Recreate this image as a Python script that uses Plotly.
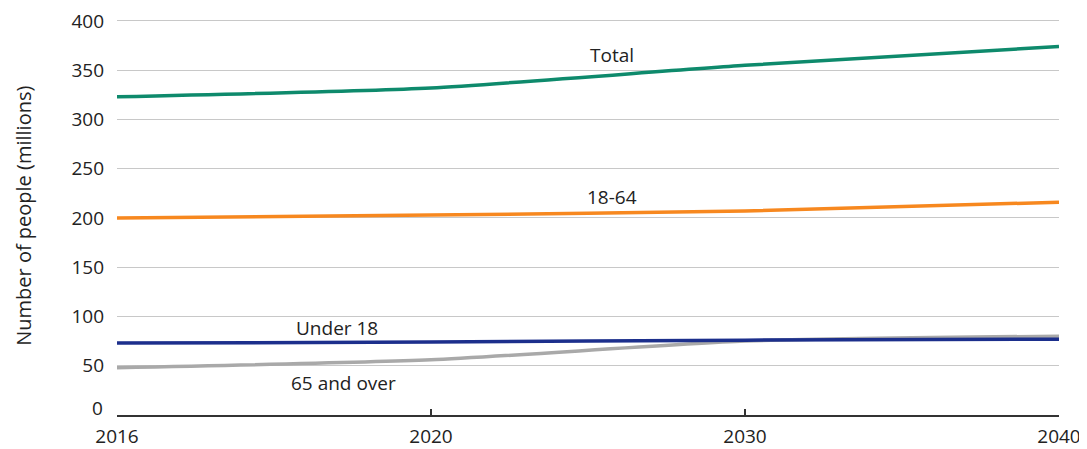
import plotly.graph_objects as go

YEARS = ["2016", "2020", "2030", "2040"]
TOTAL = [323, 332, 355, 374]
AGE_18_64 = [200, 203, 207, 216]
UNDER_18 = [73, 74, 76, 77]
AGE_65_OVER = [48, 56, 75, 80]

Y_TICKS = [0, 50, 100, 150, 200, 250, 300, 350, 400]

SERIES = [
    ("65 and over", AGE_65_OVER, "#a9a9a9"),
    ("Under 18", UNDER_18, "#1c2f8c"),
    ("18-64", AGE_18_64, "#f7881f"),
    ("Total", TOTAL, "#0e8a6c"),
]

# label text, x position (category index), y value
LABELS = [
    ("Total", 1.577, 365),
    ("18-64", 1.577, 221),
    ("Under 18", 0.70, 88),
    ("65 and over", 0.72, 32),
]

FONT = "Open Sans, Lato, sans-serif"

fig = go.Figure()
for name, vals, color in SERIES:
    fig.add_trace(go.Scatter(
        x=YEARS, y=vals, name=name, mode="lines",
        line=dict(color=color, width=3.5, shape="spline", smoothing=0.6),
        showlegend=False,
    ))

for text, x, y in LABELS:
    fig.add_annotation(text=text, x=x, y=y, xref="x", yref="y",
                       showarrow=False, font=dict(size=19, color="#222", family=FONT))

# the zero label sits a little above the axis line in the reference
fig.add_annotation(text=str(Y_TICKS[0]), x=0, y=Y_TICKS[0], xref="paper", yref="y",
                   xanchor="right", yanchor="middle", xshift=-12, yshift=7,
                   showarrow=False, font=dict(size=19, color="#222", family=FONT))

# y-axis title as an annotation so it sits where the reference has it
fig.add_annotation(text="Number of people (millions)", textangle=-90,
                   xref="paper", yref="paper", x=-0.100, y=0.5,
                   xanchor="center", yanchor="middle",
                   showarrow=False, font=dict(size=20, color="#222", family=FONT))

# the page adds an 8px body margin, so the figure is sized to fit the window
fig.update_layout(
    width=1079, height=441,
    plot_bgcolor="white", paper_bgcolor="white",
    font=dict(family=FONT, color="#222", size=19),
    margin=dict(l=109, r=28, t=9, b=34),
)
fig.update_xaxes(
    type="category", range=[0, 3], automargin=False,
    showgrid=False, showline=True, linecolor="#333", linewidth=1.5,
    ticks="inside", ticklen=6, tickcolor="#333", tickwidth=1.5,
    tickfont=dict(size=19, family=FONT), ticklabelstandoff=3,
)
fig.update_yaxes(
    range=[0, 404], automargin=False, ticklabeloverflow="allow",
    tickvals=Y_TICKS, ticktext=[""] + [str(v) for v in Y_TICKS[1:]],
    showgrid=True, gridcolor="#c8c8c8", gridwidth=1,
    zeroline=False, showline=False, ticks="",
    tickfont=dict(size=19, family=FONT), ticklabelstandoff=12,
)

fig.write_html("out.html")
